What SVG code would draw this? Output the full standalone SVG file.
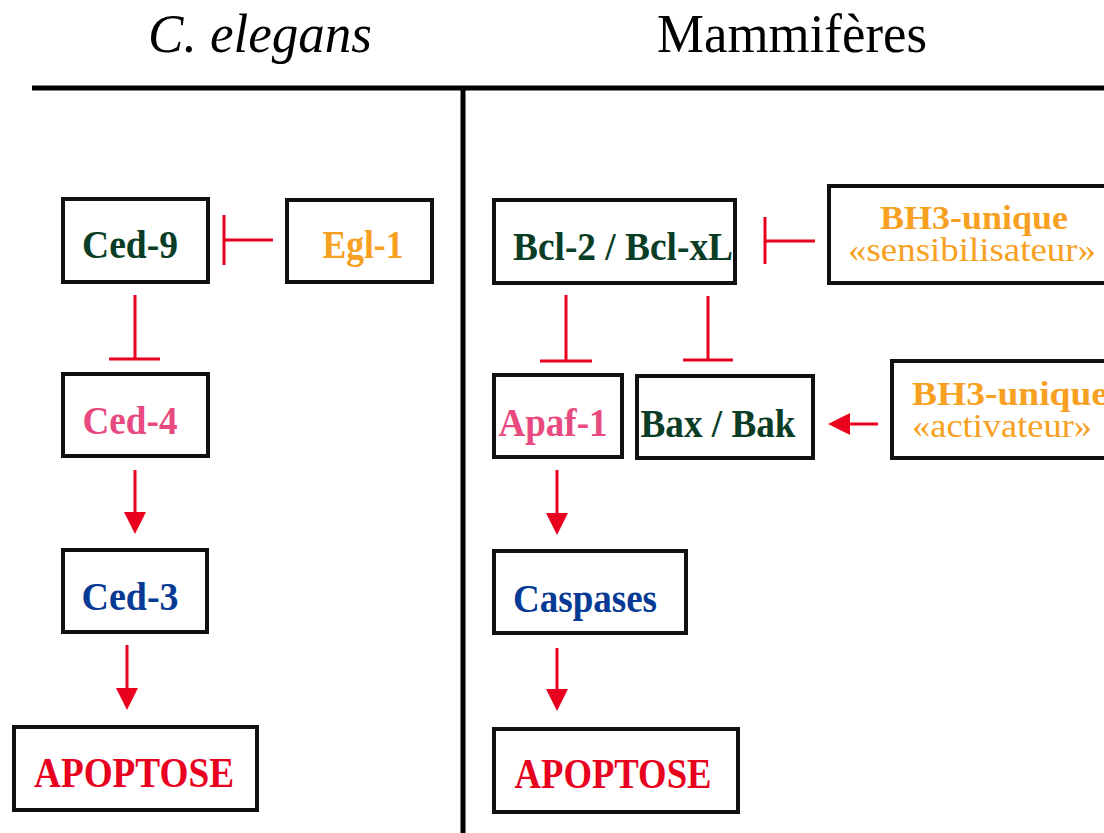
<svg xmlns="http://www.w3.org/2000/svg" width="1104" height="833" viewBox="0 0 1104 833">
<defs>
<style>
.box{fill:#fff;stroke:#111;stroke-width:4}
.t{font-family:"Liberation Serif","Times New Roman",serif;font-weight:bold;text-anchor:middle}
.r{font-family:"Liberation Serif","Times New Roman",serif;text-anchor:middle}
.ttl{font-family:"Liberation Serif","Times New Roman",serif;font-size:54px;fill:#000}
.ln{stroke:#e8001e;stroke-width:3;fill:none}
.green{fill:#0a3d26}.orange{fill:#f7a021}.pink{fill:#e84a7f}.blue{fill:#073a94}.red{fill:#e8001e}
</style>
</defs>
<rect width="1104" height="833" fill="#fff"/>
<g id="titles">
<text class="ttl" x="148" y="52" font-style="italic" textLength="224" lengthAdjust="spacingAndGlyphs">C. elegans</text>
<text class="ttl" x="657" y="52" textLength="270" lengthAdjust="spacingAndGlyphs">Mammifères</text>
</g>
<g id="frame" stroke="#000" stroke-width="5">
<line x1="32" y1="88" x2="1104" y2="88"/>
<line x1="463" y1="88" x2="463" y2="833"/>
</g>
<g id="connectors">
<path class="ln" d="M273 240H224M224 215V265"/>
<path class="ln" d="M135 295V359M109 359H160"/>
<path class="ln" d="M135 470V515"/>
<polygon class="red" points="124,512 146,512 135,534"/>
<path class="ln" d="M127 645V690"/>
<polygon class="red" points="116,688 138,688 127,710"/>
<path class="ln" d="M815 241H765M765 217V264"/>
<path class="ln" d="M566 295V361M540 361H592"/>
<path class="ln" d="M708 296V360M683 360H733"/>
<path class="ln" d="M878 424H846"/>
<polygon class="red" points="850,413 850,435 828,424"/>
<path class="ln" d="M557 470V515"/>
<polygon class="red" points="546,513 568,513 557,535"/>
<path class="ln" d="M557 648V690"/>
<polygon class="red" points="546,689 568,689 557,711"/>
</g>
<g id="ced9"><rect class="box" x="63" y="199" width="145" height="83"/><text class="t green" x="130" y="258" font-size="41" textLength="96" lengthAdjust="spacingAndGlyphs">Ced-9</text></g>
<g id="egl1"><rect class="box" x="287" y="200" width="145" height="82"/><text class="t orange" x="363" y="258" font-size="41" textLength="81" lengthAdjust="spacingAndGlyphs">Egl-1</text></g>
<g id="ced4"><rect class="box" x="63" y="374" width="145" height="82"/><text class="t pink" x="130" y="434" font-size="41" textLength="95" lengthAdjust="spacingAndGlyphs">Ced-4</text></g>
<g id="ced3"><rect class="box" x="63" y="550" width="144" height="82"/><text class="t blue" x="130" y="610" font-size="41" textLength="97" lengthAdjust="spacingAndGlyphs">Ced-3</text></g>
<g id="apoptose1"><rect class="box" x="14" y="727" width="243" height="83"/><text class="t red" x="134" y="787" font-size="42" textLength="200" lengthAdjust="spacingAndGlyphs">APOPTOSE</text></g>
<g id="bcl2"><rect class="box" x="494" y="200" width="241" height="83"/><text class="t green" x="623" y="260" font-size="41" textLength="220" lengthAdjust="spacingAndGlyphs">Bcl-2 / Bcl-xL</text></g>
<g id="bh3s"><rect class="box" x="829" y="186" width="285" height="97"/><text class="t orange" x="974" y="229" font-size="34" textLength="188" lengthAdjust="spacingAndGlyphs">BH3-unique</text><text class="r orange" x="972" y="261" font-size="34" textLength="248" lengthAdjust="spacingAndGlyphs">«sensibilisateur»</text></g>
<g id="apaf1"><rect class="box" x="494" y="375" width="128" height="82"/><text class="t pink" x="553" y="436" font-size="41" textLength="109" lengthAdjust="spacingAndGlyphs">Apaf-1</text></g>
<g id="baxbak"><rect class="box" x="637" y="376" width="176" height="82"/><text class="t green" x="718" y="437" font-size="41" textLength="155" lengthAdjust="spacingAndGlyphs">Bax / Bak</text></g>
<g id="bh3a"><rect class="box" x="892" y="361" width="222" height="97"/><text class="t orange" x="1010" y="405" font-size="34" textLength="196" lengthAdjust="spacingAndGlyphs">BH3-unique</text><text class="r orange" x="1002" y="437" font-size="34" textLength="180" lengthAdjust="spacingAndGlyphs">«activateur»</text></g>
<g id="caspases"><rect class="box" x="494" y="551" width="192" height="82"/><text class="t blue" x="585" y="612" font-size="41" textLength="144" lengthAdjust="spacingAndGlyphs">Caspases</text></g>
<g id="apoptose2"><rect class="box" x="494" y="729" width="244" height="83"/><text class="t red" x="613" y="788" font-size="42" textLength="197" lengthAdjust="spacingAndGlyphs">APOPTOSE</text></g>
</svg>
